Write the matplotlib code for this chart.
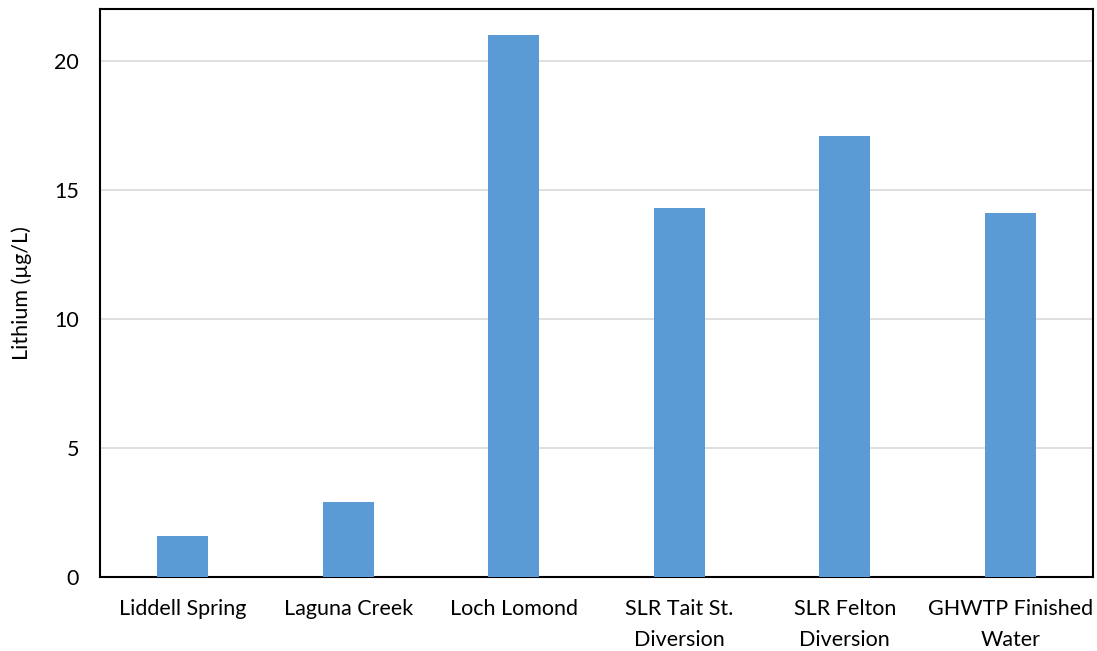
import matplotlib.pyplot as plt

# Data
sites = ["Liddell Spring", "Laguna Creek", "Loch Lomond", "SLR Tait St.\nDiversion",
         "SLR Felton\nDiversion", "GHWTP Finished\nWater"]
lithium = [1.6, 2.9, 21.0, 14.3, 17.1, 14.1]

plt.rcParams["font.family"] = ["Lato", "DejaVu Sans"]

fig = plt.figure(figsize=(10.97, 6.51), dpi=100)
ax = fig.add_axes([100 / 1097, 1 - 577 / 651, 993 / 1097, 568 / 651])

x = range(len(sites))
ax.bar(x, lithium, width=0.31, color="#5B9BD5", zorder=3)

ax.set_xlim(-0.5, len(sites) - 0.5)
ax.set_ylim(0, 22)
ax.set_yticks([0, 5, 10, 15, 20])
ax.set_xticks(list(x))
ax.set_xticklabels(sites, fontsize=15.5, linespacing=1.65)
ax.tick_params(axis="both", length=0, labelsize=15.5)
ax.tick_params(axis="x", pad=16)
ax.tick_params(axis="y", pad=15)
ax.yaxis.grid(True, color="#d9d9d9", linewidth=1.2, zorder=0)

for s in ax.spines.values():
    s.set_color("black")
    s.set_linewidth(1.5)

ax.set_ylabel("Lithium (µg/L)", fontsize=15.5, labelpad=16)

fig.savefig("out.png", dpi=100)
